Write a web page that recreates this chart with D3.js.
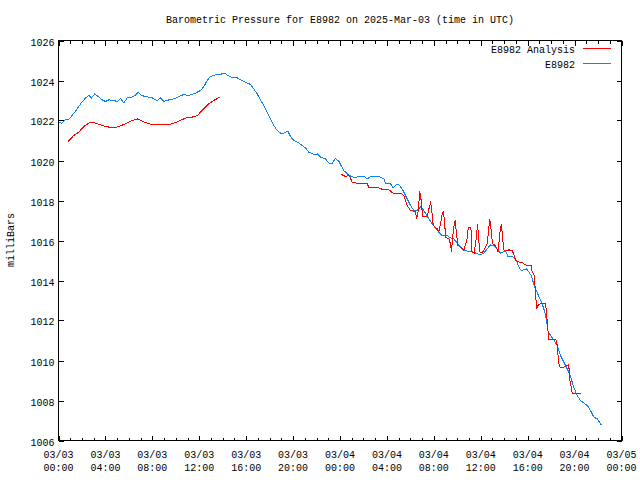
<!DOCTYPE html>
<html><head><meta charset="utf-8">
<script src="https://cdn.jsdelivr.net/npm/d3@7/dist/d3.min.js"></script>
<style>body{margin:0;background:#fff}svg{display:block}text{font-family:"Liberation Mono","DejaVu Sans Mono",monospace;font-size:10px;fill:#000}</style>
</head><body><svg id="c" width="640" height="480"></svg>
<script>
// hours since 2025-03-03 00:00 UTC
const obsHours = [0,0.26,0.6,0.88,1.45,1.88,2.3,2.58,2.81,3.09,3.44,3.73,4.01,4.29,4.71,5.0,5.29,5.57,5.86,6.28,6.57,6.8,7.08,7.42,7.99,8.42,8.7,8.98,9.4,9.83,10.26,10.68,11.11,11.68,12.11,12.39,12.68,12.96,13.39,13.96,14.24,14.81,15.24,15.52,15.94,16.37,16.65,16.94,17.22,17.5,17.79,18.07,18.36,18.65,18.93,19.21,19.55,19.78,20.06,20.49,20.78,21.06,21.34,21.77,22.06,22.34,22.76,23.05,23.34,23.62,23.92,24.13,24.32,24.47,24.75,25.04,25.32,25.6,26.03,26.32,26.6,27.31,27.74,27.88,28.31,28.54,28.82,29.01,29.3,29.59,29.87,30.01,30.29,30.58,30.86,31.15,31.44,31.86,32.29,32.71,33.14,33.42,33.7,33.99,34.27,34.56,34.98,35.41,35.7,35.98,36.26,36.55,36.83,37.11,37.4,37.68,37.97,38.11,38.31,38.82,39.05,39.25,39.45,39.67,39.9,40.1,40.3,40.47,40.67,40.86,41.09,41.33,41.46,41.61,41.72,41.95,42.23,42.52,42.74,42.94,43.23,43.51,43.71,43.93,44.22,44.51,44.79,45.08,45.36,45.64,45.93,46.21,46.3];
const obsValues = [1021.95,1021.85,1022.05,1022.05,1022.47,1022.83,1023.13,1023.25,1023.13,1023.33,1023.17,1023.03,1022.95,1023.03,1023.0,1022.95,1023.1,1022.88,1023.13,1023.17,1023.28,1023.42,1023.25,1023.2,1023.13,1023.0,1023.13,1022.95,1023.03,1023.08,1023.2,1023.3,1023.25,1023.37,1023.5,1023.7,1024.0,1024.2,1024.28,1024.33,1024.33,1024.13,1024.13,1024.03,1023.92,1023.8,1023.58,1023.33,1023.03,1022.75,1022.42,1022.08,1021.75,1021.5,1021.37,1021.37,1021.47,1021.2,1021.0,1020.87,1020.75,1020.63,1020.42,1020.3,1020.33,1020.17,1020.08,1019.87,1019.87,1020.1,1019.95,1019.7,1019.5,1019.42,1019.25,1019.2,1019.13,1019.22,1019.22,1019.08,1019.2,1019.2,1019.08,1018.87,1018.83,1018.63,1018.8,1018.8,1018.58,1018.25,1017.92,1017.75,1017.5,1017.5,1017.67,1017.5,1017.2,1016.83,1016.5,1016.25,1016.25,1016.13,1016.08,1015.87,1015.67,1015.53,1015.45,1015.42,1015.33,1015.3,1015.37,1015.58,1015.78,1015.73,1015.58,1015.37,1015.45,1015.5,1015.2,1015.17,1014.97,1014.67,1014.5,1014.53,1014.58,1014.42,1014.25,1013.92,1013.58,1013.33,1013.03,1012.67,1012.42,1012.0,1011.5,1011.25,1011.03,1010.75,1010.33,1010.08,1009.75,1009.42,1009.08,1008.67,1008.25,1008.0,1007.87,1007.75,1007.5,1007.17,1007.08,1006.83,1006.78];
const anaHours1 = [0.83,1.3,1.73,2.16,2.73,3.15,3.73,4.58,5.0,5.71,6.28,6.71,7.14,7.7,8.27,9.12,9.69,10.26,10.83,11.4,11.83,12.25,12.81,13.24,13.75];
const anaValues1 = [1020.95,1021.25,1021.42,1021.7,1021.92,1021.87,1021.75,1021.63,1021.67,1021.83,1022.0,1022.08,1021.97,1021.83,1021.78,1021.78,1021.83,1021.97,1022.12,1022.17,1022.25,1022.5,1022.83,1023.0,1023.17];
const anaHours2 = [24.04,24.47,24.75,24.9,25.04,25.6,26.32,26.46,27.45,27.6,28.16,28.31,28.59,29.3,29.44,29.73,30.01,30.44,30.52,30.63,30.72,30.8,30.92,31.04,31.44,31.58,31.72,31.8,31.95,32.29,32.43,32.57,32.71,32.8,32.91,33.0,33.28,33.42,33.51,33.59,33.7,33.82,33.93,34.05,34.27,34.56,34.83,34.94,35.16,35.25,35.44,35.59,35.73,35.82,35.93,36.12,36.55,36.69,36.77,36.89,37.0,37.26,37.49,37.6,37.75,37.86,37.97,38.26,38.4,38.68,38.82,38.97,39.25,39.54,39.82,40.1,40.3,40.39,40.53,40.61,40.67,40.76,40.87,41.04,41.53,41.67,41.76,41.81,42.38,42.47,42.58,42.67,42.75,43.09,43.51,43.57,43.71,43.8,44.51];
const anaValues2 = [1019.33,1019.2,1019.25,1019.12,1018.88,1018.87,1018.83,1018.67,1018.62,1018.55,1018.53,1018.47,1018.33,1018.33,1018.25,1017.75,1017.5,1017.45,1017.08,1017.33,1017.83,1018.47,1018.0,1017.2,1017.2,1017.58,1017.87,1017.67,1016.75,1016.58,1016.42,1016.83,1017.33,1017.42,1017.0,1016.17,1016.08,1015.83,1015.45,1016.08,1016.67,1017.0,1016.33,1015.75,1015.67,1015.5,1016.08,1016.67,1016.67,1015.42,1015.37,1016.0,1016.83,1016.08,1015.42,1015.37,1015.83,1016.67,1017.08,1016.5,1015.83,1015.75,1015.42,1016.25,1016.83,1016.17,1015.53,1015.5,1015.53,1015.5,1015.3,1015.0,1014.92,1014.9,1014.78,1014.75,1014.75,1014.42,1014.33,1013.83,1013.42,1012.58,1012.75,1012.83,1012.83,1011.92,1011.33,1011.03,1011.03,1011.0,1010.33,1009.83,1009.67,1009.67,1009.78,1009.08,1008.67,1008.37,1008.37];
const xTickDates = ["03/03","03/03","03/03","03/03","03/03","03/03","03/04","03/04","03/04","03/04","03/04","03/04","03/05"];
const xTickTimes = ["00:00","04:00","08:00","12:00","16:00","20:00","00:00","04:00","08:00","12:00","16:00","20:00","00:00"];
const yTicks = [1006,1008,1010,1012,1014,1016,1018,1020,1022,1024,1026];
const seriesNames = ["E8982 Analysis","E8982"];
const seriesColors = ["#ff0000","#0a84f5"];
const titleText = "Barometric Pressure for E8982 on 2025-Mar-03 (time in UTC)";

const svg = d3.select("#c");
const L=58.5,R=621.5,T=40.5,B=440.5;
const x = d3.scaleLinear().domain([0,48]).range([L,R]);
const y = d3.scaleLinear().domain([1006,1026]).range([B,T]);

const line = d3.line().x(d=>x(d[0])).y(d=>y(d[1]));
const zip=(a,b)=>a.map((v,i)=>[v,b[i]]);
const g = svg.append("g").attr("shape-rendering","crispEdges");
g.append("path").datum(zip(obsHours,obsValues)).attr("d",line).attr("fill","none").attr("stroke",seriesColors[1]).attr("stroke-width",1);
g.append("path").datum(zip(anaHours1,anaValues1)).attr("d",line).attr("fill","none").attr("stroke",seriesColors[0]).attr("stroke-width",1);
g.append("path").datum(zip(anaHours2,anaValues2)).attr("d",line).attr("fill","none").attr("stroke",seriesColors[0]).attr("stroke-width",1);

// frame
svg.append("rect").attr("x",L).attr("y",T).attr("width",R-L).attr("height",B-T).attr("fill","none").attr("stroke","#000").attr("shape-rendering","crispEdges");

const hours = d3.range(0,49,1);
const ax = svg.append("g").attr("stroke","#000").attr("shape-rendering","crispEdges");
hours.forEach(h=>{
  const len = h%4===0?5:3;
  const xx = Math.round(x(h))+0.5;
  ax.append("line").attr("x1",xx).attr("x2",xx).attr("y1",B).attr("y2",B-len);
  ax.append("line").attr("x1",xx).attr("x2",xx).attr("y1",T).attr("y2",T+len);
});
yTicks.forEach(v=>{
  const yy = Math.round(y(v))+0.5;
  ax.append("line").attr("x1",L).attr("x2",L+5).attr("y1",yy).attr("y2",yy);
  ax.append("line").attr("x1",R).attr("x2",R-5).attr("y1",yy).attr("y2",yy);
  svg.append("text").attr("x",L-4).attr("y",yy+4).attr("text-anchor","end").text(v);
});
xTickDates.forEach((d,i)=>{
  const xx = x(i*4);
  svg.append("text").attr("x",xx).attr("y",458).attr("text-anchor","middle").text(d);
  svg.append("text").attr("x",xx).attr("y",471).attr("text-anchor","middle").text(xTickTimes[i]);
});
svg.append("text").attr("x",340).attr("y",23).attr("text-anchor","middle").text(titleText);
svg.append("text").attr("transform","translate(14,240) rotate(-90)").attr("text-anchor","middle").text("milliBars");

// legend
[0,1].forEach(i=>{
  const ly = 48.5+i*15;
  svg.append("text").attr("x",575).attr("y",ly+4).attr("text-anchor","end").text(seriesNames[i]);
  svg.append("line").attr("x1",583).attr("x2",611).attr("y1",ly).attr("y2",ly).attr("stroke",seriesColors[i]).attr("shape-rendering","crispEdges");
});
</script></body></html>
